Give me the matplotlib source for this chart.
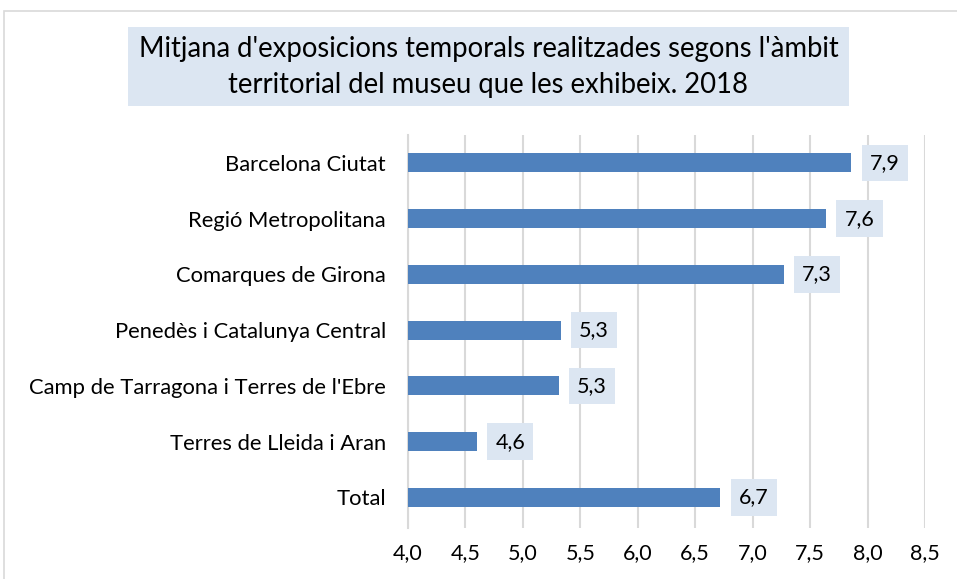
import matplotlib.pyplot as plt
from matplotlib.patches import Rectangle

categories = ["Barcelona Ciutat", "Regió Metropolitana", "Comarques de Girona",
              "Penedès i Catalunya Central", "Camp de Tarragona i Terres de l'Ebre",
              "Terres de Lleida i Aran", "Total"]
values = [7.86, 7.64, 7.27, 5.33, 5.31, 4.60, 6.72]
xticks = [4.0, 4.5, 5.0, 5.5, 6.0, 6.5, 7.0, 7.5, 8.0, 8.5]
title = "Mitjana d'exposicions temporals realitzades segons l'àmbit\nterritorial del museu que les exhibeix. 2018"

plt.rcParams["font.family"] = ["Lato", "DejaVu Sans"]

fig = plt.figure(figsize=(9.57, 5.79), dpi=100)
W, H = 957, 579

# outer chart frame
fig.patches.append(Rectangle((4 / W, -0.01), 1.0, (H - 11) / H + 0.01, transform=fig.transFigure,
                             fill=False, edgecolor="#D9D9D9", linewidth=1.2))

# title box
fig.patches.append(Rectangle((128 / W, 1 - 106 / H), (849 - 128) / W, 79 / H,
                             transform=fig.transFigure, facecolor="#DCE6F2", edgecolor="none"))
fig.text((128 + 849) / 2 / W, 1 - 67 / H, title, ha="center", va="center",
         fontsize=19.8, linespacing=1.45, color="#000000")

ax = fig.add_axes([408 / W, 1 - 528 / H, (925 - 408) / W, (528 - 135) / H])
ypos = list(range(len(categories)))
ax.barh(ypos, [v - 4.0 for v in values], left=4.0, height=0.34, color="#4F81BD", zorder=3)
ax.set_xlim(4.0, 8.5)
ax.set_ylim(len(categories) - 0.45, -0.5)
ax.set_xticks(xticks)
ax.set_xticklabels([f"{t:.1f}".replace(".", ",") for t in xticks], fontsize=15.5)
ax.set_yticks(ypos)
ax.set_yticklabels(categories, fontsize=15.8)
ax.tick_params(axis="both", length=0)
ax.tick_params(axis="x", pad=11)
ax.tick_params(axis="y", pad=16)
ax.grid(axis="x", color="#D9D9D9", linewidth=1.5, zorder=0)
for s in ["top", "right", "bottom"]:
    ax.spines[s].set_visible(False)
ax.spines["left"].set_color("#D9D9D9")
ax.spines["left"].set_linewidth(1.5)

for y, v in zip(ypos, values):
    ax.annotate(f"{v:.1f}".replace(".", ","), (v, y), xytext=(24, 0), textcoords="offset points",
                ha="center", va="center", fontsize=15.5, zorder=4,
                bbox=dict(boxstyle="square,pad=0.38", facecolor="#DCE6F2", edgecolor="none"))

fig.savefig("out.png", dpi=100)
